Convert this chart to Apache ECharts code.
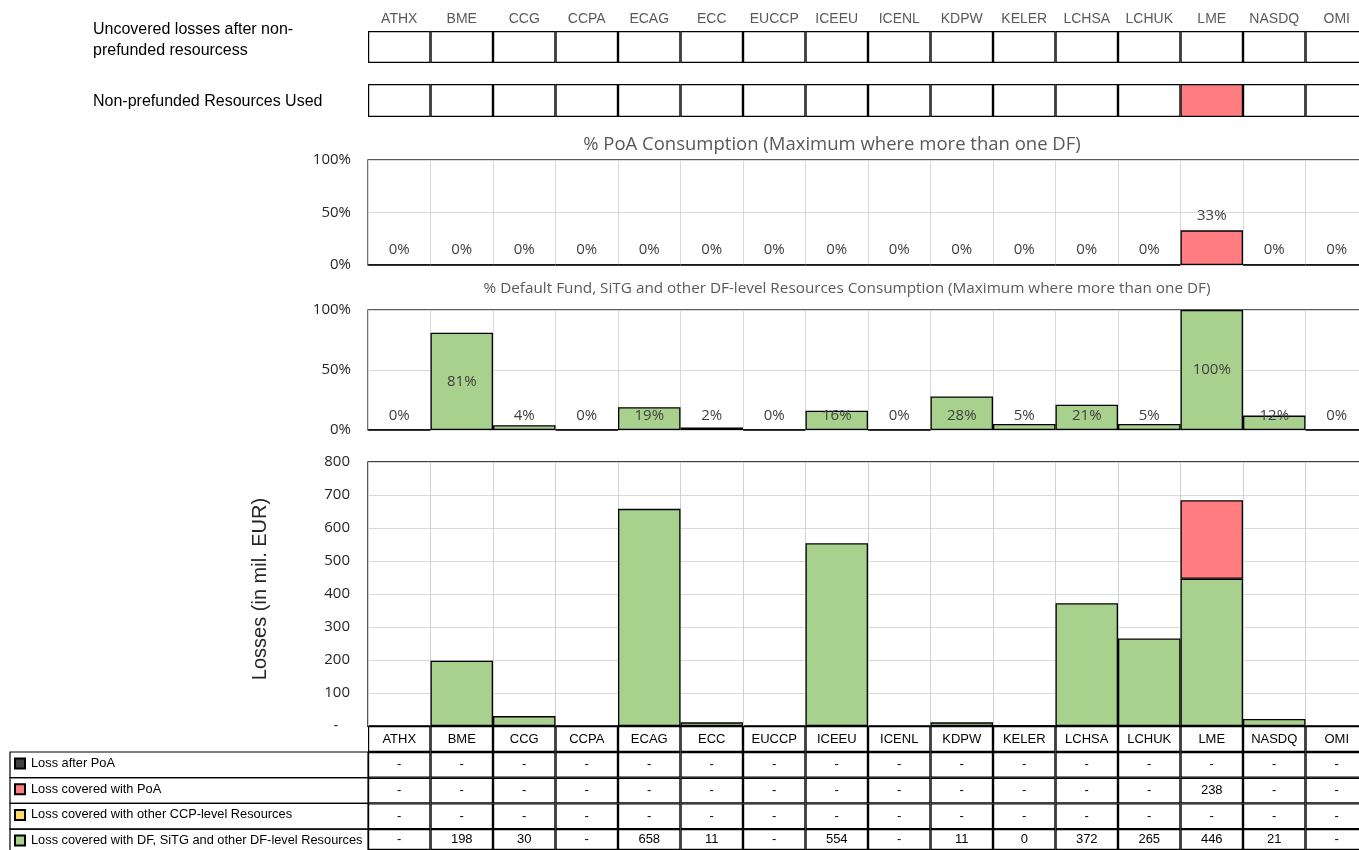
<!DOCTYPE html>
<html>
<head>
<meta charset="utf-8">
<script src="https://cdn.jsdelivr.net/npm/echarts@6/dist/echarts.min.js"></script>
<style>
  html, body { margin: 0; padding: 0; background: #fff; overflow: hidden; }
  #chart { width: 1372px; height: 850px; }
</style>
</head>
<body>
<div id="chart"></div>
<script>
// CCPs
const categories = ['ATHX', 'BME', 'CCG', 'CCPA', 'ECAG', 'ECC', 'EUCCP', 'ICEEU', 'ICENL', 'KDPW', 'KELER', 'LCHSA', 'LCHUK', 'LME', 'NASDQ', 'OMI'];

// losses in mil. EUR
const lossAfterPoA = [0, 0, 0, 0, 0, 0, 0, 0, 0, 0, 0, 0, 0, 0, 0, 0];
const lossPoA = [0, 0, 0, 0, 0, 0, 0, 0, 0, 0, 0, 0, 0, 238, 0, 0];
const lossOtherCCP = [0, 0, 0, 0, 0, 0, 0, 0, 0, 0, 0, 0, 0, 0, 0, 0];
const lossDF = [0, 198, 30, 0, 658, 11, 0, 554, 0, 11, 0.4, 372, 265, 446, 21, 0];

// consumption shares
const poaPct = [0, 0, 0, 0, 0, 0, 0, 0, 0, 0, 0, 0, 0, 0.33, 0, 0];
const dfPct = [0, 0.81, 0.04, 0, 0.19, 0.02, 0, 0.16, 0, 0.28, 0.05, 0.21, 0.05, 1.0, 0.12, 0];

// flags for the two top rows
const uncoveredAfterNonPrefunded = [0, 0, 0, 0, 0, 0, 0, 0, 0, 0, 0, 0, 0, 0, 0, 0];
const nonPrefundedUsed = [0, 0, 0, 0, 0, 0, 0, 0, 0, 0, 0, 0, 0, 1, 0, 0];

const pctTicks = ['0%', '50%', '100%'];
const lossTicks = ['-   ', '100', '200', '300', '400', '500', '600', '700', '800'];

const legendNames = [
  'Loss after PoA',
  'Loss covered with PoA',
  'Loss covered with other CCP-level Resources',
  'Loss covered with DF, SiTG and other DF-level Resources'
];
const tableRows = [lossAfterPoA, lossPoA, lossOtherCCP, lossDF];

const COLORS = {after: '#404040', poa: '#FF7C80', other: '#FFD966', df: '#A9D18E'};
const FONT = 'Liberation Sans Narrow, Liberation Sans, sans-serif';
const FONT2 = 'Open Sans, sans-serif';

const PLOT_LEFT = 368;
const PLOT_W = 1000;
const ROW_TOP = 752;
const ROW_H = 25.7;

const chart = echarts.init(document.getElementById('chart'));

const grids = [];
const xAxes = [];
const yAxes = [];
const series = [];

// helper: one row of table cells
const addCellRow = (top, height, opts = {}) => {
  const idx = grids.length;
  grids.push({left: PLOT_LEFT, top, width: PLOT_W, height, show: false});
  xAxes.push({
    type: 'category', gridIndex: idx, data: categories,
    position: opts.topLabels ? 'top' : 'bottom',
    axisLine: {show: false}, axisTick: {show: false},
    axisLabel: opts.topLabels
      ? {show: true, interval: 0, margin: 5, color: '#595959', fontSize: 14, fontFamily: FONT}
      : {show: false},
    splitLine: {show: false}
  });
  yAxes.push({type: 'value', gridIndex: idx, min: 0, max: 1, show: false});
  series.push({
    type: 'bar', name: 'cells' + idx, xAxisIndex: idx, yAxisIndex: idx,
    data: categories.map(() => 1),
    barCategoryGap: 0, silent: true,
    itemStyle: {
      color: opts.colorFn || '#fff',
      borderColor: '#000', borderWidth: 1.2
    },
    label: opts.labelFn ? {
      show: true, position: 'inside', color: '#000', fontSize: 13, fontFamily: FONT,
      formatter: opts.labelFn
    } : {show: false}
  });
  return idx;
};

// top rows
addCellRow(31, 32, {topLabels: true, colorFn: p => uncoveredAfterNonPrefunded[p.dataIndex] ? COLORS.poa : '#fff'});
addCellRow(84, 33, {colorFn: p => nonPrefundedUsed[p.dataIndex] ? COLORS.poa : '#fff'});

// percent panels
const addPctPanel = (top, height, values, color, labelPos) => {
  const idx = grids.length;
  grids.push({left: PLOT_LEFT, top, width: PLOT_W, height, show: true, borderColor: '#262626', borderWidth: 1.3, backgroundColor: 'transparent'});
  xAxes.push({
    type: 'category', gridIndex: idx, data: categories,
    axisLine: {show: false}, axisTick: {show: false}, axisLabel: {show: false},
    splitLine: {show: true, interval: 0, lineStyle: {color: '#D9D9D9'}}
  });
  yAxes.push({
    type: 'value', gridIndex: idx, min: 0, max: 1, interval: 0.5,
    axisLine: {show: false}, axisTick: {show: false},
    axisLabel: {color: '#262626', fontSize: 15, fontFamily: FONT2, margin: 17,
      formatter: v => pctTicks[Math.round(v * 2)]},
    splitLine: {show: true, lineStyle: {color: '#D9D9D9'}}
  });
  series.push({
    type: 'bar', name: 'pct' + idx, xAxisIndex: idx, yAxisIndex: idx,
    data: values.map(v => ({value: v, label: labelPos(v, height)})),
    barCategoryGap: 0, silent: true,
    itemStyle: {color, borderColor: '#000', borderWidth: 1.3},
    label: {show: true, color: '#404040', fontSize: 15, fontFamily: FONT2,
      formatter: p => Math.round(p.value * 100) + '%'}
  });
};

addPctPanel(160, 105, poaPct, COLORS.poa, () => ({position: 'top', distance: 7}));
addPctPanel(310, 120, dfPct, COLORS.df, (v, h) =>
  v * h / 2 > 17 ? {position: 'inside'} : {position: 'insideBottom', distance: 7});

// main loss chart
const mainIdx = grids.length;
grids.push({left: PLOT_LEFT, top: 462, width: PLOT_W, height: 264, show: true, borderColor: '#000', borderWidth: 1.3, backgroundColor: 'transparent'});
xAxes.push({
  type: 'category', gridIndex: mainIdx, data: categories,
  axisLine: {show: true, lineStyle: {color: '#000', width: 1.3}}, axisTick: {show: false}, axisLabel: {show: false},
  splitLine: {show: true, interval: 0, lineStyle: {color: '#D0D0D0'}}
});
yAxes.push({
  type: 'value', gridIndex: mainIdx, min: 0, max: 800, interval: 100,
  name: 'Losses (in mil. EUR)', nameLocation: 'middle', nameGap: 98, nameRotate: 90,
  nameTextStyle: {color: '#262626', fontSize: 20, fontFamily: 'Liberation Sans, sans-serif', padding: [0, 0, 0, 10]},
  axisLine: {show: false}, axisTick: {show: false},
  axisLabel: {color: '#262626', fontSize: 15, fontFamily: FONT2, margin: 18,
    formatter: v => lossTicks[Math.round(v / 100)]},
  splitLine: {show: true, lineStyle: {color: '#D9D9D9'}}
});
const stackDefs = [
  [legendNames[3], lossDF, COLORS.df],
  [legendNames[2], lossOtherCCP, COLORS.other],
  [legendNames[1], lossPoA, COLORS.poa],
  [legendNames[0], lossAfterPoA, COLORS.after]
];
stackDefs.forEach(([name, data, color]) => {
  series.push({
    type: 'bar', name, stack: 'loss', xAxisIndex: mainIdx, yAxisIndex: mainIdx,
    // empty segments are skipped so their outlines do not stack up
    data: data.map(v => v === 0 ? '-' : v),
    barCategoryGap: 0,
    itemStyle: {color, borderColor: '#000', borderWidth: 1.3}
  });
});

// data table: header + value rows
addCellRow(726, 26, {labelFn: p => categories[p.dataIndex]});
tableRows.forEach((row, i) => {
  addCellRow(ROW_TOP + i * ROW_H, ROW_H, {
    labelFn: p => row[p.dataIndex] === 0 ? '-' : String(Math.round(row[p.dataIndex]))
  });
});

// left-hand texts and legend column borders
const graphics = [
  {type: 'text', left: 93, top: 19, style: {text: 'Uncovered losses after non-\nprefunded resourcess', fill: '#000', font: '16px Liberation Sans, sans-serif', lineHeight: 21}},
  {type: 'text', left: 93, top: 94, style: {text: 'Non-prefunded Resources Used', fill: '#000', font: '16px Liberation Sans, sans-serif'}}
];
legendNames.forEach((n, i) => {
  graphics.push({type: 'rect', shape: {x: 10, y: ROW_TOP + i * ROW_H, width: PLOT_LEFT - 10, height: ROW_H},
    style: {fill: 'none', stroke: '#000', lineWidth: 1.2}, silent: true});
});

// one legend per table row so each sits in its own cell
const legends = legendNames.map((n, i) => ({
  orient: 'vertical', left: 14, top: ROW_TOP + i * ROW_H + 5,
  data: [{name: n, icon: 'rect'}], itemWidth: 10, itemHeight: 10,
  selectedMode: false, padding: 0,
  textStyle: {color: '#000', fontSize: 12.8, fontFamily: FONT, padding: [0, 0, 0, 1]}
}));

const option = {
  animation: false,
  backgroundColor: '#fff',
  title: [
    {text: '% PoA Consumption (Maximum where more than one DF)', left: 827, top: 130, textAlign: 'center',
      textStyle: {color: '#595959', fontSize: 18.5, fontWeight: 'normal', fontFamily: FONT2}},
    {text: '% Default Fund, SiTG and other DF-level Resources Consumption (Maximum where more than one DF)', left: 842, top: 276, textAlign: 'center',
      textStyle: {color: '#595959', fontSize: 15.3, fontWeight: 'normal', fontFamily: FONT2}}
  ],
  legend: legends,
  grid: grids,
  xAxis: xAxes,
  yAxis: yAxes,
  series,
  graphic: graphics
};

chart.setOption(option);
</script>
</body>
</html>
